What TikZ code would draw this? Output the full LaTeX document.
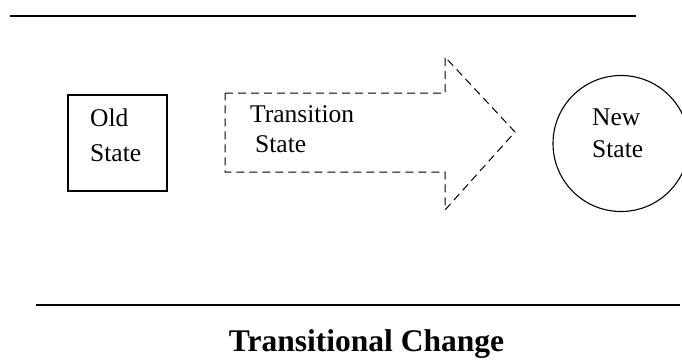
\documentclass[tikz,border=0pt]{standalone}
\usepackage{fontspec}
\setmainfont{Liberation Serif}
\usepackage{tikz}

\begin{document}
\begin{tikzpicture}[x=1pt,y=-1pt,
  statebox/.style={draw,line width=1.1pt,minimum width=99pt,minimum height=96pt},
  statecircle/.style={draw,circle,line width=1.1pt,minimum size=136pt,inner sep=0pt},
  statetext/.style={anchor=base west,align=left,inner sep=0pt},
  dashline/.style={draw,line width=1pt,dash pattern=on 8pt off 5pt},
  rule/.style={line width=1.4pt}]
\useasboundingbox (0,0) rectangle (682,362);
% rules above and below
\coordinate (topl) at (10,16);
\coordinate (topr) at (636,16);
\coordinate (botl) at (36,305);
\coordinate (botr) at (680,305);
\draw[rule] (topl) -- (topr);
\draw[rule] (botl) -- (botr);
% the three states
\node [statebox] (old) at (117.5,143) {};
\node [statetext,font=\fontsize{25.5}{35}\selectfont] (oldtext) at (90,161) {Old\\State};
\node [statecircle] (new) at (621,143.5) {};
\node [statetext,font=\fontsize{25.5}{32}\selectfont] (newtext) at (592,157) {New\\State};
\path [dashline] (225,93) -- (445,93) -- (445,57) -- (515,132) -- (445,210)
  -- (445,172) -- (225,172) -- cycle;
\node [statetext,font=\fontsize{25.5}{30}\selectfont] (trans)
  at (250,152) {Transition\\\hspace{5pt}State};
% caption
\node [anchor=base,font=\fontsize{31.5}{36}\selectfont\bfseries] (title)
  at (366.5,351) {Transitional Change};
\end{tikzpicture}
\end{document}
